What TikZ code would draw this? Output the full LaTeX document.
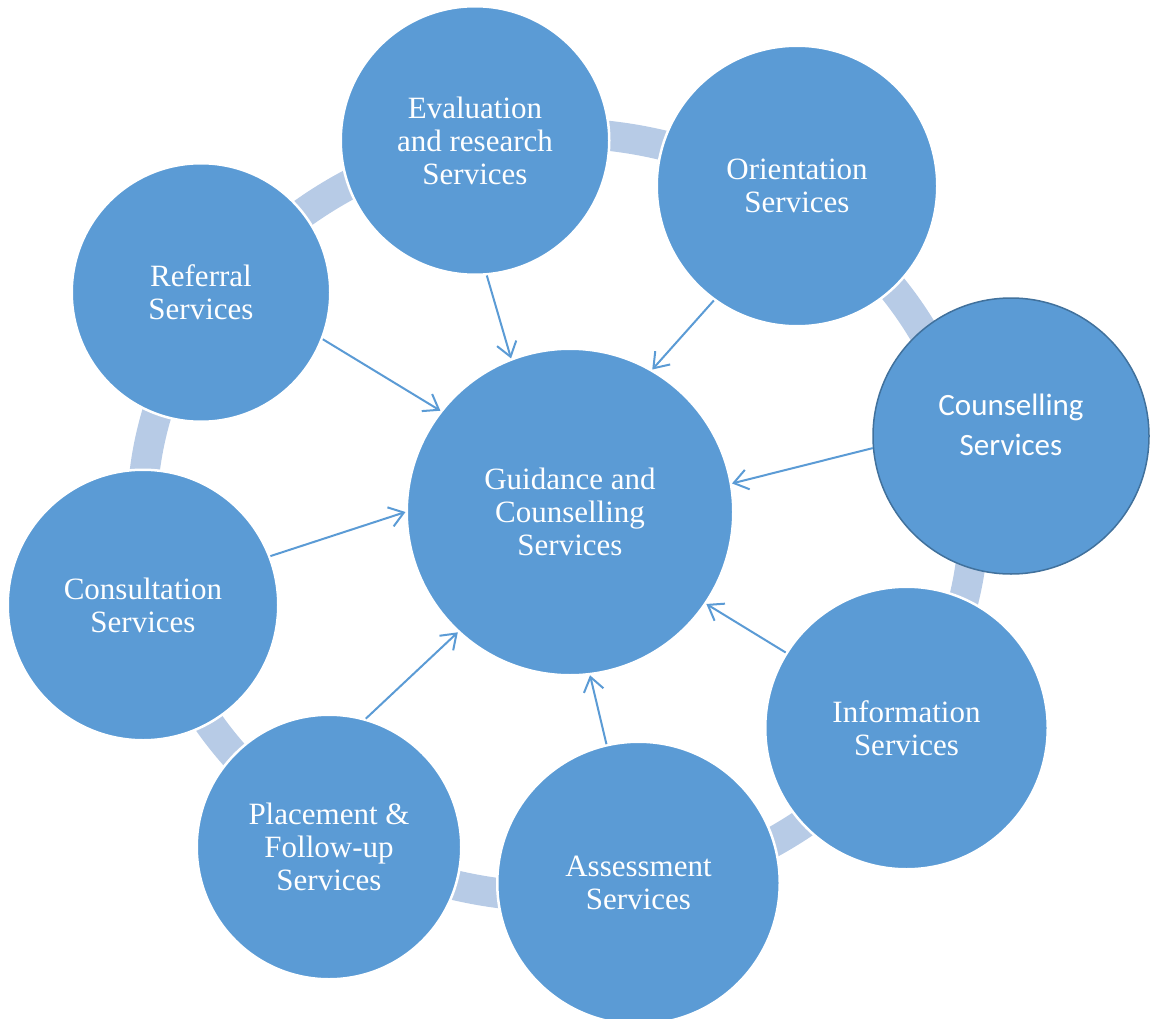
\documentclass[tikz,border=0pt]{standalone}
\usepackage{fontspec}
\setmainfont{Liberation Serif}
\newfontfamily\calfont{Carlito}
\usetikzlibrary{arrows.meta}
\definecolor{svcblue}{RGB}{91,155,213}
\definecolor{svcband}{RGB}{183,203,230}
\definecolor{svcedge}{RGB}{65,113,156}

\begin{document}
\begin{tikzpicture}[x=1pt, y=-1pt,
    svc/.style={circle, fill=svcblue, draw=white, line width=2.5pt, inner sep=0pt,
      text=white, align=center, font=\fontsize{31}{33}\selectfont},
    arr/.style={-{Straight Barb[length=14pt, width=20pt]}, svcblue, line width=2pt}]
  \useasboundingbox (0,0) rectangle (1151,1019);
  % band running round behind the outer circles
  \coordinate (ring) at (558,515);
  \draw[svcband, line width=30pt] (ring) ellipse [x radius=416, y radius=382];

  \node[svc, minimum size=326.5pt] (hub) at (570,512) {Guidance and\\Counselling\\Services};
  \node[svc, minimum size=268.5pt] (eval) at (475,140.5) {Evaluation\\and research\\Services};
  \node[svc, minimum size=280.5pt] (orient) at (797,186) {Orientation\\Services};
  \node[svc, minimum size=276pt, draw=svcedge, line width=1.5pt] (couns) at (1011,436) {};
  \node[text=white, align=center, font=\calfont\fontsize{31}{40}\selectfont]
    (counstext) at ([yshift=11pt]couns.center) {Counselling\\Services};
  \node[svc, minimum size=282.5pt] (info) at (906.5,728) {Information\\Services};
  \node[svc, minimum size=282.5pt] (assess) at (638.5,883) {Assessment\\Services};
  \node[svc, minimum size=264.5pt] (place) at (329,847) {Placement \&\\Follow-up\\Services};
  \node[svc, minimum size=270.5pt] (consult) at (143,605) {Consultation\\Services};
  \node[svc, minimum size=258.5pt] (referral) at (201,292.5) {Referral\\Services};

  \foreach \n/\a/\b in {eval/-85/111, orient/-126/60, couns/-175/10, info/148/-34,
      assess/103/-83, place/74/-133, consult/21/180, referral/-21/142}
    \draw[arr] (\n.\a) -- (hub.\b);
\end{tikzpicture}
\end{document}
